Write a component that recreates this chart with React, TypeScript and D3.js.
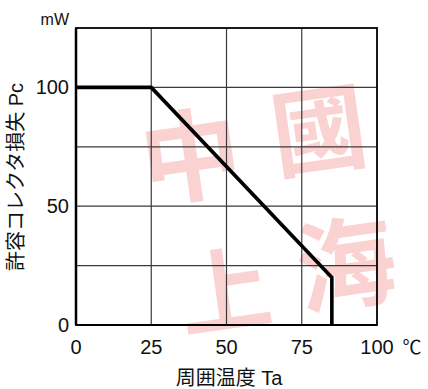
import React from "react";
import * as d3 from "d3";

const tempC = [0, 25, 85, 85];
const powerMW = [100, 100, 20, 0];
const xTicks = [0, 25, 50, 75, 100];
const yTickLabels = [0, 50, 100];
const xGrid = [25, 50, 75];
const yGrid = [25, 50, 75, 100];
const watermark = [
  { ch: "中", x: 190, y: 150, size: 100 },
  { ch: "國", x: 318, y: 124, size: 95 },
  { ch: "上", x: 224, y: 285, size: 92 },
  { ch: "海", x: 345, y: 258, size: 100 },
];

const W = 428;
const H = 389;
const FONT = "'Liberation Sans', Arial, 'Noto Sans CJK JP', sans-serif";

export default function App() {
  const x = d3.scaleLinear().domain([0, 100]).range([76, 377]);
  const y = d3.scaleLinear().domain([0, 125]).range([325, 28]);
  const pts = tempC.map((t, i) => [t, powerMW[i]] as [number, number]);
  const line = d3
    .line<[number, number]>()
    .x((d) => x(d[0]))
    .y((d) => y(d[1]));

  return (
    <svg
      width={W}
      height={H}
      style={{ position: "absolute", left: 0, top: 0, background: "#fff" }}
      fontFamily={FONT}
    >
      <rect x={0} y={0} width={W} height={H} fill="#fff" />
      {/* watermark */}
      <g fill="#fbd2d2" fontFamily="'Noto Sans CJK SC', 'Noto Sans CJK JP', sans-serif" fontWeight={700}>
        {watermark.map((w, i) => (
          <text
            key={i}
            x={w.x}
            y={w.y}
            fontSize={w.size}
            textAnchor="middle"
            dominantBaseline="central"
            transform={`rotate(-8 ${w.x} ${w.y})`}
          >
            {w.ch}
          </text>
        ))}
      </g>
      {/* grid */}
      <g stroke="#3a3a3a" strokeWidth={1.2}>
        {xGrid.map((v) => (
          <line key={"gx" + v} x1={x(v)} x2={x(v)} y1={y(125)} y2={y(0)} />
        ))}
        {yGrid.map((v) => (
          <line key={"gy" + v} x1={x(0)} x2={x(100)} y1={y(v)} y2={y(v)} />
        ))}
      </g>
      {/* frame */}
      <rect
        x={x(0)}
        y={y(125)}
        width={x(100) - x(0)}
        height={y(0) - y(125)}
        fill="none"
        stroke="#000"
        strokeWidth={1.8}
      />
      <line x1={x(0)} x2={x(0)} y1={y(125)} y2={y(0)} stroke="#000" strokeWidth={2.5} />
      <line x1={x(0)} x2={x(100)} y1={y(0)} y2={y(0)} stroke="#000" strokeWidth={2.2} />
      {/* data line */}
      <path
        d={line(pts) || ""}
        fill="none"
        stroke="#000"
        strokeWidth={3.6}
        strokeLinejoin="miter"
      />
      {/* y tick labels */}
      <g fontSize={20} fill="#111" textAnchor="end">
        {yTickLabels.map((v) => (
          <text key={"yt" + v} x={69} y={y(v) + 7}>
            {v}
          </text>
        ))}
      </g>
      <text x={69} y={25} fontSize={16} fill="#111" textAnchor="end">
        mW
      </text>
      {/* x tick labels */}
      <g fontSize={20} fill="#111" textAnchor="middle">
        {xTicks.map((v) => (
          <text key={"xt" + v} x={x(v)} y={354}>
            {v}
          </text>
        ))}
      </g>
      <text x={412} y={354} fontSize={19} fill="#111" textAnchor="middle">
        ℃
      </text>
      {/* axis titles */}
      <text x={229} y={385} fontSize={20} fill="#111" textAnchor="middle">
        周囲温度 Ta
      </text>
      <text
        transform="translate(23,177) rotate(-90)"
        fontSize={20}
        fill="#111"
        textAnchor="middle"
      >
        許容コレクタ損失 Pc
      </text>
    </svg>
  );
}
